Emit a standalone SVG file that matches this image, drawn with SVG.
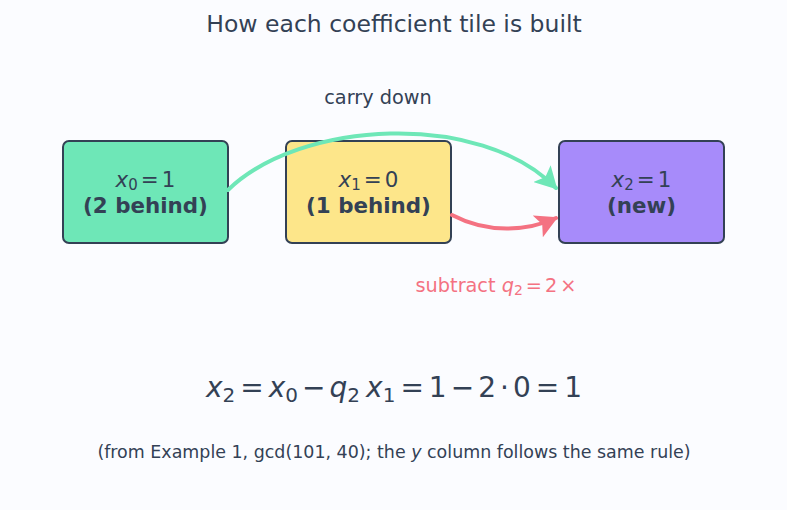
<svg xmlns="http://www.w3.org/2000/svg" width="787" height="510" viewBox="0 0 787 510">
<style>
.t{font-family:"DejaVu Sans",sans-serif;fill:#334155}
.m{font-style:italic}
.box{stroke:#334155;stroke-width:2}
.lbl{font-size:21.4px;text-anchor:middle}
.b{font-weight:bold}
</style>
<defs>
<marker id="ag" markerWidth="6" markerHeight="6" refX="5" refY="3" orient="auto" markerUnits="strokeWidth"><path d="M0,0 L5.5,3 L0,6 L1.2,3 Z" fill="#6ee7b7"/></marker>
<marker id="ar" markerWidth="6" markerHeight="6" refX="5" refY="3" orient="auto" markerUnits="strokeWidth"><path d="M0,0 L5.5,3 L0,6 L1.2,3 Z" fill="#f47282"/></marker>
</defs>
<rect width="787" height="510" fill="#fbfcff"/>
<text class="t" x="394" y="32" font-size="23.5" text-anchor="middle">How each coefficient tile is built</text>
<g id="n0">
<rect class="box" x="63" y="141" width="165" height="102" rx="6" fill="#6ee7b7"/>
<text class="t lbl" x="145.5" y="187"><tspan class="m">x</tspan><tspan font-size="15" dy="3">0</tspan><tspan dy="-3" dx="3">=</tspan><tspan dx="3">1</tspan></text>
<text class="t lbl b" x="145.5" y="213">(2 behind)</text>
</g>
<g id="n1">
<rect class="box" x="286" y="141" width="165" height="102" rx="6" fill="#fde68a"/>
<text class="t lbl" x="368.5" y="187"><tspan class="m">x</tspan><tspan font-size="15" dy="3">1</tspan><tspan dy="-3" dx="3">=</tspan><tspan dx="3">0</tspan></text>
<text class="t lbl b" x="368.5" y="213">(1 behind)</text>
</g>
<g id="n2">
<rect class="box" x="559" y="141" width="165" height="102" rx="6" fill="#a78bfa"/>
<text class="t lbl" x="641.5" y="187"><tspan class="m">x</tspan><tspan font-size="15" dy="3">2</tspan><tspan dy="-3" dx="3">=</tspan><tspan dx="3">1</tspan></text>
<text class="t lbl b" x="641.5" y="213">(new)</text>
</g>
<g id="edges" fill="none" stroke-width="4" stroke-linecap="round">
<path d="M228,190 C300,120 480,110 556,188" stroke="#6ee7b7" marker-end="url(#ag)"/>
<path d="M452,215 C490,235 530,230 556,218" stroke="#f47282" marker-end="url(#ar)"/>
</g>
<text class="t" x="378" y="104" font-size="19.3" text-anchor="middle">carry down</text>
<text class="t" x="496" y="292" font-size="19.3" text-anchor="middle" style="fill:#f47282">subtract <tspan class="m">q</tspan><tspan font-size="14" dy="3">2</tspan><tspan dy="-3" dx="3">=</tspan><tspan dx="3">2</tspan><tspan dx="3">×</tspan></text>
<text class="t" x="394" y="397" font-size="28" text-anchor="middle"><tspan class="m">x</tspan><tspan font-size="20" dy="5">2</tspan><tspan dy="-5" dx="5">=</tspan><tspan class="m" dx="5">x</tspan><tspan font-size="20" dy="5">0</tspan><tspan dy="-5" dx="4">−</tspan><tspan class="m" dx="4">q</tspan><tspan font-size="20" dy="5">2</tspan><tspan class="m" dy="-5" dx="6">x</tspan><tspan font-size="20" dy="5">1</tspan><tspan dy="-5" dx="5">=</tspan><tspan dx="5">1</tspan><tspan dx="4">−</tspan><tspan dx="4">2</tspan><tspan dx="4">·</tspan><tspan dx="4">0</tspan><tspan dx="5">=</tspan><tspan dx="5">1</tspan></text>
<text class="t" x="394" y="458" font-size="17.45" text-anchor="middle">(from Example 1, gcd(101, 40); the <tspan class="m">y</tspan> column follows the same rule)</text>
</svg>
